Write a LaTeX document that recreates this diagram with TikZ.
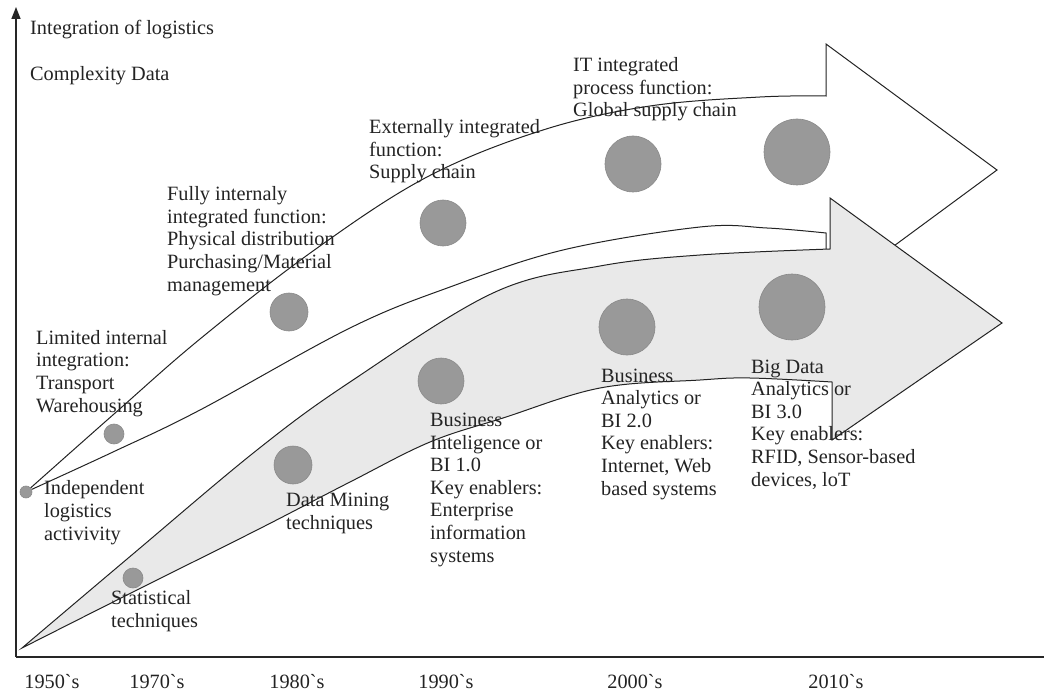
\documentclass[tikz,border=0pt]{standalone}
\usepackage{fontspec}
\setmainfont{Liberation Serif}
\usetikzlibrary{arrows.meta}
\definecolor{dotgray}{RGB}{153,153,153}
\definecolor{dotedge}{RGB}{138,138,138}
\definecolor{arrowfill}{RGB}{233,233,233}
\definecolor{ink}{RGB}{35,35,35}
\begin{document}
\begin{tikzpicture}[x=1pt,y=-1pt,
  lbl/.style={anchor=base west, align=left, inner sep=0pt, text=ink, font=\fontsize{20.3}{22.6}\selectfont},
  yr/.style={anchor=base, inner sep=0pt, text=ink, font=\fontsize{20.3}{22.6}\selectfont},
  dot/.style={circle, fill=dotgray, draw=dotedge, line width=0.6pt, inner sep=0pt},
  outline/.style={draw=ink, line width=1pt, line join=miter},
  axis/.style={draw=black!85, line width=1.4pt}]
\useasboundingbox (0,0) rectangle (1044,695);
% axes
\coordinate (O) at (16,657);
\coordinate (ytop) at (16,7);
\coordinate (xend) at (1044,657);
\draw[axis, -{Triangle[length=12pt,width=9pt]}] (O) -- (ytop);
\draw[axis] (O) -- (xend);
% upper (white) arrow
\draw[outline, fill=white]
  plot[smooth, tension=0.6] coordinates {(26,492) (114,414) (200,339) (313,251) (427,177) (543,130) (650,106) (760,97) (826,96)}
  -- (826,44) -- (997,170) -- (826,296) -- (826,233)
  -- plot[smooth, tension=0.6] coordinates {(826,233) (767,228) (700,227) (563,250) (450,287) (350,328) (200,410) (113,452) (26,492)}
  -- cycle;
% lower (grey) arrow
\draw[outline, fill=arrowfill]
  plot[smooth, tension=0.6] coordinates {(22,648) (133,554) (257,450) (350,382) (493,293) (600,266) (700,255) (830,249)}
  -- (830,198) -- (1002,323) -- (832,440) -- (832,382)
  -- plot[smooth, tension=0.6] coordinates {(832,382) (750,378) (700,380) (600,388) (503,418) (430,442) (350,482) (257,530) (133,592) (22,648)}
  -- cycle;
% dots upper
\node[dot, minimum size=12pt] (u0) at (26,492) {};
\node[dot, minimum size=20pt] (u1) at (114,434) {};
\node[dot, minimum size=38pt] (u2) at (289,312) {};
\node[dot, minimum size=46pt] (u3) at (443,223) {};
\node[dot, minimum size=56pt] (u4) at (633,164) {};
\node[dot, minimum size=66pt] (u5) at (797,152) {};
% dots lower
\node[dot, minimum size=20pt] (l1) at (133,578) {};
\node[dot, minimum size=38pt] (l2) at (293,465) {};
\node[dot, minimum size=46pt] (l3) at (441,381) {};
\node[dot, minimum size=56pt] (l4) at (627,327) {};
\node[dot, minimum size=66pt] (l5) at (792,307) {};
% axis labels (anchor = baseline of last line)
\node[lbl] (tint) at (30,35) {Integration of logistics};
\node[lbl] (tcd) at (30,81) {Complexity Data};
% upper labels
\node[lbl] (tind) at (44,540) {Independent\\logistics\\activivity};
\node[lbl] (tlim) at (36,412) {Limited internal\\integration:\\Transport\\Warehousing};
\node[lbl] (tfull) at (167,291) {Fully internaly\\integrated function:\\Physical distribution\\Purchasing/Material\\management};
\node[lbl] (text) at (369,179) {Externally integrated\\function:\\Supply chain};
\node[lbl] (tit) at (573,117) {IT integrated\\process function:\\Global supply chain};
% lower labels
\node[lbl] (tstat) at (111,627) {Statistical\\techniques};
\node[lbl] (tdm) at (286,529) {Data Mining\\techniques};
\node[lbl] (tbi1) at (430,562) {Business\\Inteligence or\\BI 1.0\\Key enablers:\\Enterprise\\information\\systems};
\node[lbl] (tbi2) at (601,495) {Business\\Analytics or\\BI 2.0\\Key enablers:\\Internet, Web\\based systems};
\node[lbl] (tbi3) at (751,486) {Big Data\\Analytics or\\BI 3.0\\Key enablers:\\RFID, Sensor-based\\devices, loT};
% years
\node[yr] (y50) at (52,688) {1950\textasciigrave s};
\node[yr] (y70) at (157,688) {1970\textasciigrave s};
\node[yr] (y80) at (297,688) {1980\textasciigrave s};
\node[yr] (y90) at (446,688) {1990\textasciigrave s};
\node[yr] (y00) at (635,688) {2000\textasciigrave s};
\node[yr] (y10) at (836,688) {2010\textasciigrave s};
\end{tikzpicture}
\end{document}
